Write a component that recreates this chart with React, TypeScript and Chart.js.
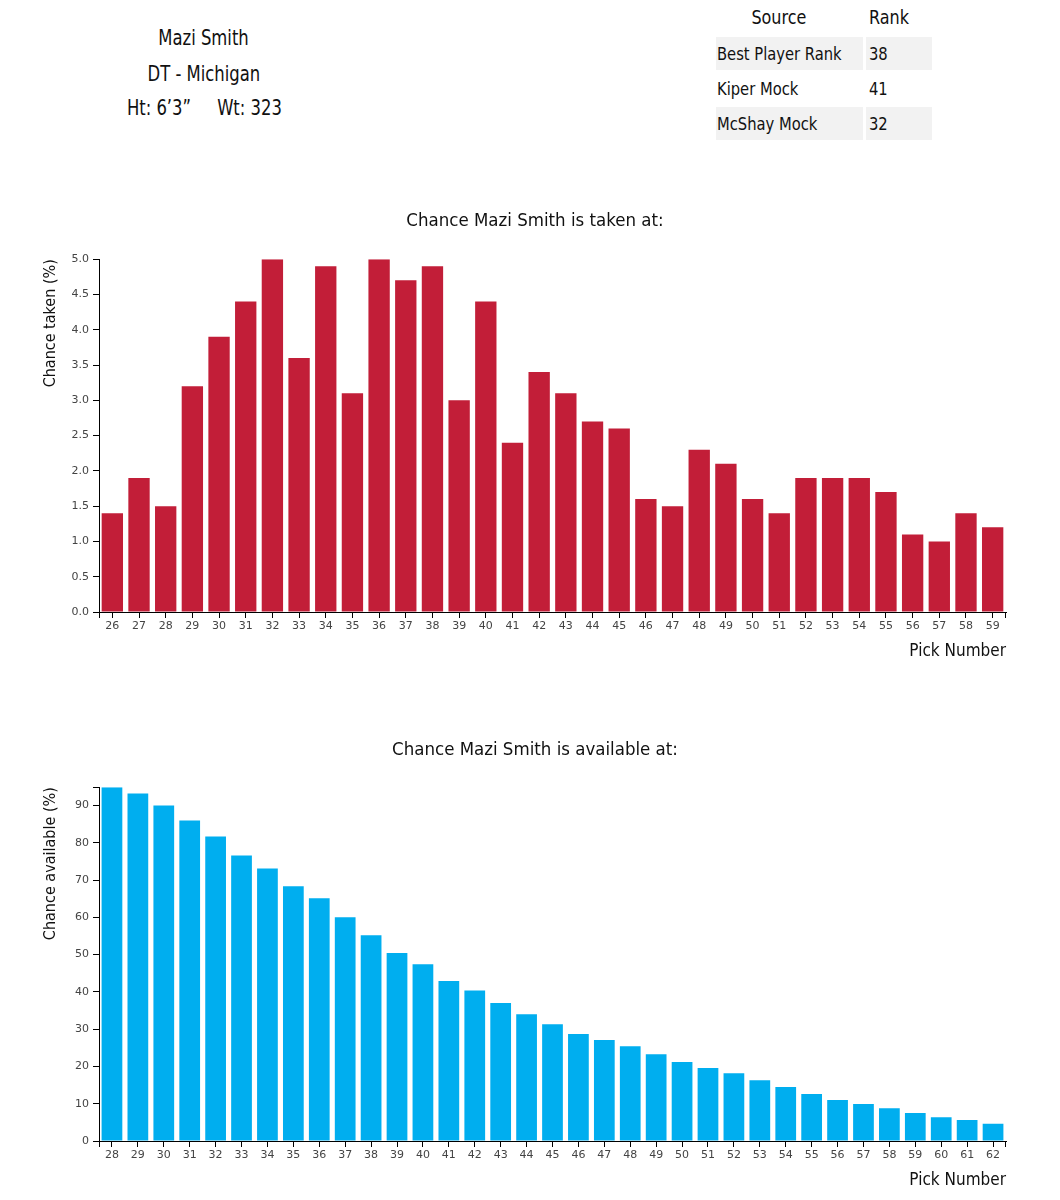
import React, { useEffect, useRef } from 'react';
import { Chart, registerables } from 'chart.js';

Chart.register(...registerables);

const playerName = 'Mazi Smith';
const playerPosition = 'DT - Michigan';
const playerHeight = 'Ht: 6’3”';
const playerWeight = 'Wt: 323';

const tableHeaders = ['Source', 'Rank'];
const tableSources = ['Best Player Rank', 'Kiper Mock', 'McShay Mock'];
const tableRanks = ['38', '41', '32'];

const takenPicks = ['26', '27', '28', '29', '30', '31', '32', '33', '34', '35', '36', '37', '38', '39', '40', '41', '42', '43', '44', '45', '46', '47', '48', '49', '50', '51', '52', '53', '54', '55', '56', '57', '58', '59'];
const takenValues = [1.4, 1.9, 1.5, 3.2, 3.9, 4.4, 5.0, 3.6, 4.9, 3.1, 5.0, 4.7, 4.9, 3.0, 4.4, 2.4, 3.4, 3.1, 2.7, 2.6, 1.6, 1.5, 2.3, 2.1, 1.6, 1.4, 1.9, 1.9, 1.9, 1.7, 1.1, 1.0, 1.4, 1.2];

const availablePicks = ['28', '29', '30', '31', '32', '33', '34', '35', '36', '37', '38', '39', '40', '41', '42', '43', '44', '45', '46', '47', '48', '49', '50', '51', '52', '53', '54', '55', '56', '57', '58', '59', '60', '61', '62'];
const availableValues = [94.9, 93.2, 90.0, 86.0, 81.7, 76.6, 73.1, 68.3, 65.1, 60.0, 55.2, 50.4, 47.4, 42.9, 40.4, 37.0, 34.0, 31.3, 28.7, 27.1, 25.4, 23.3, 21.2, 19.6, 18.2, 16.3, 14.5, 12.6, 11.0, 9.9, 8.8, 7.5, 6.4, 5.6, 4.6];

const NARROW = "'DejaVu Sans Condensed', 'Liberation Sans', sans-serif";
const TICKFONT = "'DejaVu Sans', Verdana, sans-serif";

const outerTicks = {
  id: 'outerTicks',
  afterDraw(chart: any) {
    const { ctx, chartArea } = chart;
    const { left, right, top, bottom } = chartArea;
    ctx.save();
    ctx.strokeStyle = '#000';
    ctx.lineWidth = 1;
    ctx.beginPath();
    ctx.moveTo(left - 6, Math.round(top) + 0.5);
    ctx.lineTo(left, Math.round(top) + 0.5);
    ctx.moveTo(Math.round(left) + 0.5, bottom);
    ctx.lineTo(Math.round(left) + 0.5, bottom + 6);
    ctx.moveTo(Math.round(right) - 0.5, bottom);
    ctx.lineTo(Math.round(right) - 0.5, bottom + 6);
    ctx.stroke();
    ctx.restore();
  },
};

type BarProps = {
  labels: string[];
  values: number[];
  color: string;
  title: string;
  yTitle: string;
  titlePadTop: number;
  titlePadBottom: number;
  decimals: number;
  step: number;
  height: number;
  bottomPad: number;
};

function BarChart(props: BarProps) {
  const ref = useRef<HTMLCanvasElement | null>(null);
  useEffect(() => {
    if (!ref.current) return;
    const maxVal = Math.max(...props.values);
    const chart = new Chart(ref.current, {
      type: 'bar',
      data: {
        labels: props.labels,
        datasets: [
          {
            data: props.values,
            backgroundColor: props.color,
            borderWidth: 0,
            barPercentage: 0.8,
            categoryPercentage: 1,
            yAxisID: 'y',
          },
        ],
      },
      plugins: [outerTicks],
      options: {
        animation: false,
        responsive: false,
        maintainAspectRatio: false,
        layout: { padding: { left: 10, right: 0, top: 0, bottom: props.bottomPad } },
        plugins: {
          legend: { display: false },
          tooltip: { enabled: false },
          title: {
            display: true,
            text: props.title,
            color: '#111',
            font: { family: NARROW, size: 18.5, weight: 'normal', lineHeight: 1.2 },
            padding: { top: props.titlePadTop, bottom: props.titlePadBottom },
          },
        },
        scales: {
          x: {
            type: 'category',
            offset: true,
            grid: { display: true, drawOnChartArea: false, drawTicks: true, tickLength: 6, color: '#000', offset: false },
            border: { display: true, color: '#000' },
            ticks: { color: '#444', font: { family: TICKFONT, size: 11 }, padding: 2, maxRotation: 0, autoSkip: false },
            title: {
              display: true,
              text: 'Pick Number',
              align: 'end',
              color: '#111',
              font: { family: NARROW, size: 17, lineHeight: 1.2 },
              padding: { top: 0, bottom: 0 },
            },
            afterFit: (scale: any) => {
              scale.height = 50;
            },
          },
          y: {
            type: 'linear',
            position: 'left',
            min: 0,
            max: maxVal,
            grid: { display: true, drawOnChartArea: false, drawTicks: true, tickLength: 6, color: '#000' },
            border: { display: true, color: '#000' },
            ticks: {
              stepSize: props.step,
              includeBounds: false,
              color: '#444',
              font: { family: TICKFONT, size: 11 },
              padding: 4,
              callback: (v: any) => Number(v).toFixed(props.decimals),
            },
            title: {
              display: true,
              text: props.yTitle,
              align: 'end',
              color: '#111',
              font: { family: NARROW, size: 16, lineHeight: 1.2 },
              padding: { top: 23, bottom: 0 },
            },
            afterFit: (scale: any) => {
              scale.width = 81;
            },
          },
          yRight: {
            type: 'linear',
            position: 'right',
            display: true,
            grid: { display: false, drawTicks: false },
            border: { display: false },
            ticks: { display: false },
            afterFit: (scale: any) => {
              scale.width = 46;
            },
          },
        },
      } as any,
    });
    return () => chart.destroy();
  }, []);
  return <canvas ref={ref} width={1044} height={props.height} style={{ display: 'block', width: 1044, height: props.height }} />;
}

function Squeezed(props: { children: React.ReactNode; scale: number; origin: string }) {
  return (
    <span style={{ display: 'inline-block', transform: `scaleX(${props.scale})`, transformOrigin: props.origin }}>{props.children}</span>
  );
}

export default function App() {
  const textStyle: React.CSSProperties = {
    position: 'absolute',
    fontFamily: NARROW,
    color: '#111',
    whiteSpace: 'pre',
  };
  const rowTops = [29, 64, 99];
  return (
    <div style={{ position: 'relative', width: 1044, height: 1184, background: '#fff' }}>
      {/* player info */}
      <div style={{ ...textStyle, left: 46, width: 300, top: 16, fontSize: 22, lineHeight: '28px', textAlign: 'center' }}>
        <Squeezed scale={0.83} origin="center center">{playerName}</Squeezed>
      </div>
      <div style={{ ...textStyle, left: 46, width: 300, top: 52, fontSize: 22, lineHeight: '28px', textAlign: 'center' }}>
        <Squeezed scale={0.83} origin="center center">{playerPosition}</Squeezed>
      </div>
      <div style={{ ...textStyle, left: 46, width: 300, top: 86, fontSize: 22, lineHeight: '28px', textAlign: 'center' }}>
        <Squeezed scale={0.83} origin="center center">{playerHeight + '     ' + playerWeight}</Squeezed>
      </div>

      {/* table */}
      <div style={{ ...textStyle, left: 697, width: 147, top: -4, fontSize: 20, lineHeight: '26px', textAlign: 'center' }}>
        <Squeezed scale={0.89} origin="center center">{tableHeaders[0]}</Squeezed>
      </div>
      <div style={{ ...textStyle, left: 861, width: 66, top: -4, fontSize: 20, lineHeight: '26px' }}>
        <Squeezed scale={0.89} origin="left center">{tableHeaders[1]}</Squeezed>
      </div>
      {tableSources.map((s, i) => (
        <React.Fragment key={s}>
          <div style={{ ...textStyle, left: 708, width: 146, paddingLeft: 1, top: rowTops[i], height: 33, fontSize: 18, lineHeight: '34px', background: i % 2 === 0 ? '#f2f2f2' : 'transparent' }}>
            <Squeezed scale={0.91} origin="left center">{s}</Squeezed>
          </div>
          <div style={{ ...textStyle, left: 858, width: 63, paddingLeft: 3, top: rowTops[i], height: 33, fontSize: 18, lineHeight: '34px', background: i % 2 === 0 ? '#f2f2f2' : 'transparent' }}>
            <Squeezed scale={0.91} origin="left center">{tableRanks[i]}</Squeezed>
          </div>
        </React.Fragment>
      ))}

      <div style={{ position: 'absolute', left: 0, top: 187 }}>
        <BarChart
          labels={takenPicks}
          values={takenValues}
          color="#c21e38"
          title={'Chance ' + playerName + ' is taken at:'}
          yTitle="Chance taken (%)"
          titlePadTop={15}
          titlePadBottom={27}
          decimals={1}
          step={0.5}
          height={470}
          bottomPad={3}
        />
      </div>
      <div style={{ position: 'absolute', left: 0, top: 717 }}>
        <BarChart
          labels={availablePicks}
          values={availableValues}
          color="#00aeef"
          title={'Chance ' + playerName + ' is available at:'}
          yTitle="Chance available (%)"
          titlePadTop={14}
          titlePadBottom={26}
          decimals={0}
          step={10}
          height={467}
          bottomPad={1}
        />
      </div>
    </div>
  );
}
